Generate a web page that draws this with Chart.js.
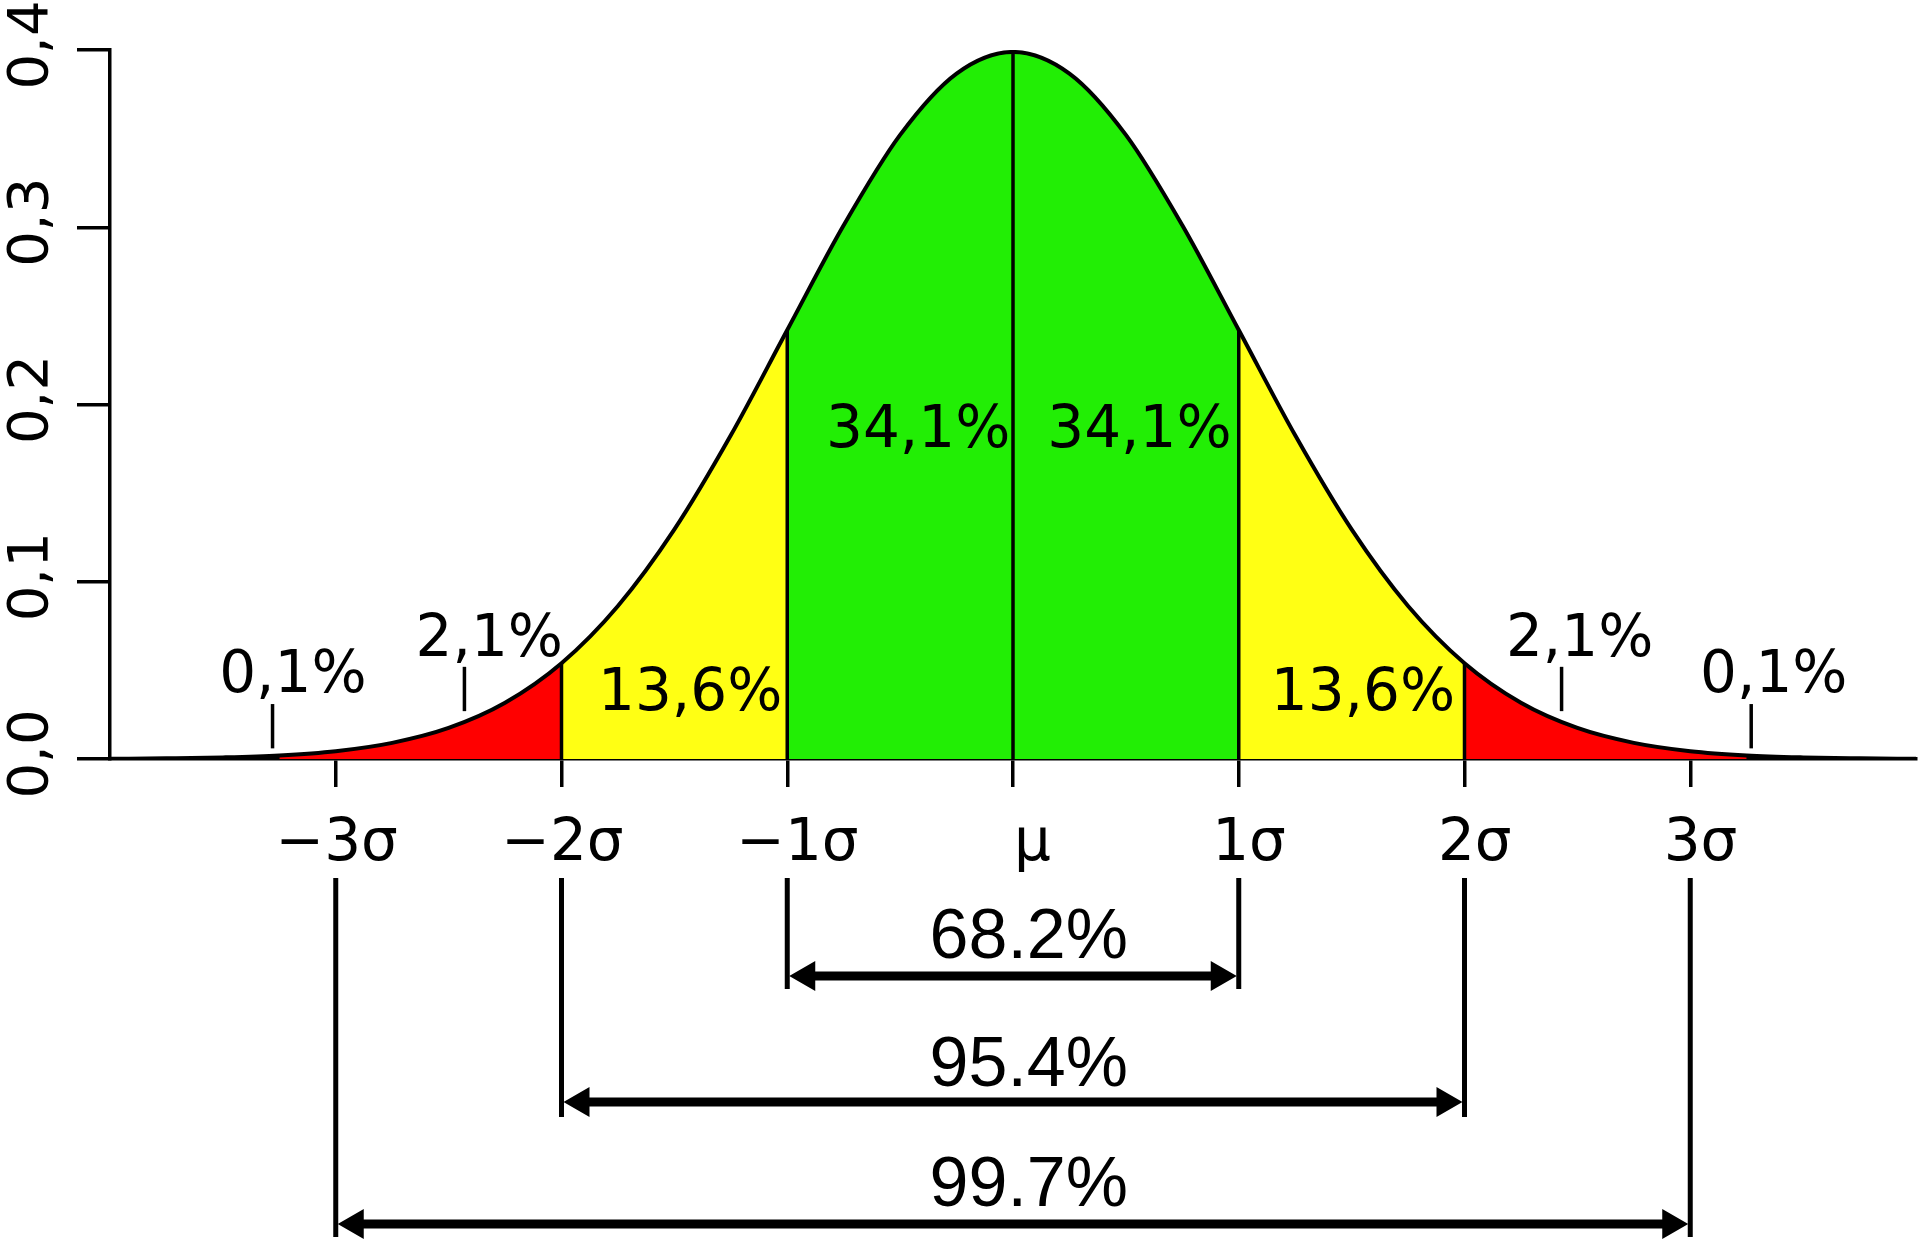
<!DOCTYPE html>
<html>
<head>
<meta charset="utf-8">
<script src="https://cdn.jsdelivr.net/npm/chart.js@4.4.1/dist/chart.umd.min.js"></script>
<style>
  html, body { margin: 0; padding: 0; background: #fff; }
  #wrap { width: 1920px; height: 1242px; }
</style>
</head>
<body>
<div id="wrap"><canvas id="chart"></canvas></div>
<script>
// curve, every quarter sigma
const sigmaX = [-4, -3.75, -3.5, -3.25, -3, -2.75, -2.5, -2.25, -2, -1.75, -1.5, -1.25, -1, -0.75, -0.5, -0.25,
    0, 0.25, 0.5, 0.75, 1, 1.25, 1.5, 1.75, 2, 2.25, 2.5, 2.75, 3, 3.25, 3.5, 3.75, 4];
const density = [0.0001, 0.0004, 0.0009, 0.0020, 0.0044, 0.0091, 0.0175, 0.0317, 0.0540, 0.0863, 0.1295, 0.1826,
    0.2420, 0.3011, 0.3521, 0.3867, 0.3989, 0.3867, 0.3521, 0.3011, 0.2420, 0.1826, 0.1295, 0.0863, 0.0540,
    0.0317, 0.0175, 0.0091, 0.0044, 0.0020, 0.0009, 0.0004, 0.0001];

// coloured bands under the curve
const bandFrom = [-3.25, -2, -1, 1, 2];
const bandTo = [-2, -1, 1, 2, 3.25];
const bandEdges = [-2, -1, 0, 1, 2];

const shareLabels = ['0,1%', '2,1%', '13,6%', '34,1%', '34,1%', '13,6%', '2,1%', '0,1%'];
const rangeLabels = ['68.2%', '95.4%', '99.7%'];
const rangeSpan = [1, 2, 3];

const sigmaTicks = [-3, -2, -1, 0, 1, 2, 3];
// leading spaces nudge the labels right as in the original
const sigmaLabels = ['\u22123\u03c3', '\u22122\u03c3', ' \u22121\u03c3', '  \u03bc', ' 1\u03c3', ' 2\u03c3', ' 3\u03c3'];
const yTicks = [0, 0.1, 0.2, 0.3, 0.4];
const yTickLabels = ['0,0', '0,1', '0,2', '0,3', '0,4'];

const bandColors = ['#ff0000', '#ffff14', '#22ee05', '#ffff14', '#ff0000'];
const FONT = "'DejaVu Sans', sans-serif";

// where the share labels sit: [x in sigma, baseline in density units]
const sharePos = [[-3.19, 0.038], [-2.32, 0.058], [-1.43, 0.0276], [-0.42, 0.176],
    [0.56, 0.176], [1.55, 0.0276], [2.51, 0.058], [3.37, 0.038]];
// little pointer strokes under the outer labels
const pointers = [[-3.28, 0.006, 0.031], [-2.43, 0.027, 0.052], [2.43, 0.027, 0.052], [3.27, 0.006, 0.031]];

const points = sigmaX.map((v, i) => ({ x: v, y: density[i] }));

const bandSets = bandFrom.map((from, i) => ({
    data: points.filter(p => p.x >= from && p.x <= bandTo[i]),
    backgroundColor: bandColors[i],
    borderWidth: 0,
    fill: 'origin',
    pointRadius: 0,
    cubicInterpolationMode: 'monotone',
    order: 2
}));

const overlay = {
    id: 'overlay',
    afterDatasetsDraw(chart) {
        const { ctx, scales: { x, y } } = chart;
        ctx.save();
        ctx.strokeStyle = '#000';
        ctx.lineWidth = 3.5;
        bandEdges.forEach(v => {
            const px = x.getPixelForValue(v);
            ctx.beginPath();
            ctx.moveTo(px, y.getPixelForValue(0));
            ctx.lineTo(px, y.getPixelForValue(density[sigmaX.indexOf(v)]));
            ctx.stroke();
        });
        pointers.forEach(([v, y0, y1]) => {
            const px = x.getPixelForValue(v);
            ctx.beginPath();
            ctx.moveTo(px, y.getPixelForValue(y0));
            ctx.lineTo(px, y.getPixelForValue(y1));
            ctx.stroke();
        });
        ctx.fillStyle = '#000';
        ctx.font = '58px ' + FONT;
        ctx.textAlign = 'center';
        ctx.textBaseline = 'alphabetic';
        shareLabels.forEach((t, i) => {
            ctx.fillText(t, x.getPixelForValue(sharePos[i][0]), y.getPixelForValue(sharePos[i][1]));
        });
        ctx.restore();
    },
    afterDraw(chart) {
        const { ctx, chartArea, scales: { x, y } } = chart;
        const bottom = chartArea.bottom;
        ctx.save();
        ctx.fillStyle = '#000';

        // rotated y tick labels
        ctx.font = '56px ' + FONT;
        ctx.textAlign = 'center';
        ctx.textBaseline = 'alphabetic';
        yTicks.forEach((v, i) => {
            ctx.save();
            ctx.translate(47, y.getPixelForValue(v) - 5);
            ctx.rotate(-Math.PI / 2);
            ctx.fillText(yTickLabels[i], 0, 0);
            ctx.restore();
        });

        // range brackets under the axis
        const arrowY = [217, 343, 465];
        const lineEnd = [230, 358, 478];
        const textY = [199, 327, 447];
        ctx.strokeStyle = '#000';
        ctx.font = "70px 'Liberation Sans', Arial, sans-serif";
        rangeSpan.forEach((s, i) => {
            const xl = x.getPixelForValue(-s);
            const xr = x.getPixelForValue(s);
            ctx.lineWidth = 5;
            [xl, xr].forEach(px => {
                ctx.beginPath();
                ctx.moveTo(px, bottom + 119);
                ctx.lineTo(px, bottom + lineEnd[i]);
                ctx.stroke();
            });
            const ay = bottom + arrowY[i];
            ctx.lineWidth = 9;
            ctx.beginPath();
            ctx.moveTo(xl + 20, ay);
            ctx.lineTo(xr - 20, ay);
            ctx.stroke();
            ctx.beginPath();
            ctx.moveTo(xl + 2, ay);
            ctx.lineTo(xl + 28, ay - 15);
            ctx.lineTo(xl + 28, ay + 15);
            ctx.closePath();
            ctx.moveTo(xr - 2, ay);
            ctx.lineTo(xr - 28, ay - 15);
            ctx.lineTo(xr - 28, ay + 15);
            ctx.closePath();
            ctx.fill();
            ctx.fillText(rangeLabels[i], x.getPixelForValue(0.07), bottom + textY[i]);
        });
        ctx.restore();
    }
};

new Chart(document.getElementById('chart'), {
    type: 'line',
    data: {
        datasets: [{
            data: points,
            borderColor: '#000',
            borderWidth: 4,
            fill: false,
            pointRadius: 0,
            cubicInterpolationMode: 'monotone',
            order: 0
        }, ...bandSets]
    },
    options: {
        responsive: true,
        maintainAspectRatio: false,
        animation: false,
        layout: { padding: { top: 50, right: 4, left: 0, bottom: 0 } },
        plugins: {
            legend: { display: false },
            tooltip: { enabled: false }
        },
        scales: {
            x: {
                type: 'linear',
                min: -4,
                max: 4,
                afterBuildTicks: function (scale) {
                    scale.ticks = sigmaTicks.map(v => ({ value: v }));
                },
                afterFit: function (scale) {
                    scale.height = 483;
                },
                ticks: {
                    autoSkip: false,
                    maxRotation: 0,
                    padding: 23,
                    labelOffset: 1,
                    color: '#000',
                    font: { family: FONT, size: 58 },
                    callback: function (value) {
                        return sigmaLabels[sigmaTicks.indexOf(value)];
                    }
                },
                grid: { drawOnChartArea: false, drawTicks: true, tickLength: 28, color: '#000', lineWidth: 3.5 },
                border: { color: '#000', width: 3.5 }
            },
            y: {
                min: 0,
                max: 0.4,
                afterBuildTicks: function (scale) {
                    scale.ticks = yTicks.map(v => ({ value: v }));
                },
                afterFit: function (scale) {
                    scale.width = 110;
                },
                ticks: { display: false },
                grid: { drawOnChartArea: false, drawTicks: true, tickLength: 33, color: '#000', lineWidth: 3.5 },
                border: { color: '#000', width: 3.5 }
            }
        }
    },
    plugins: [overlay]
});
</script>
</body>
</html>
